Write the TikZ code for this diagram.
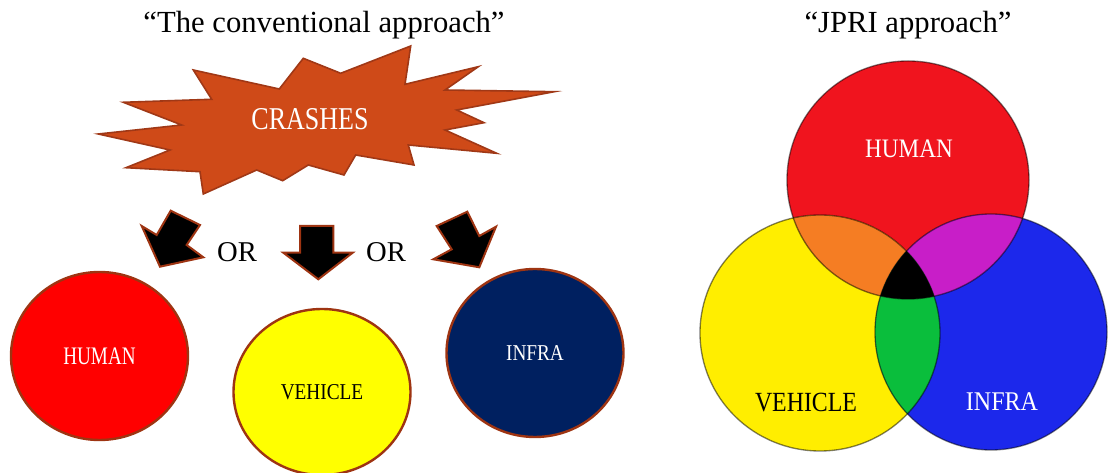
\documentclass[tikz,border=0pt]{standalone}
\usepackage{fontspec}
\setmainfont{Liberation Serif}
\usetikzlibrary{shapes.geometric}
\definecolor{burstfill}{RGB}{207,74,24}
\definecolor{burstline}{RGB}{160,56,22}
\definecolor{rimbrown}{RGB}{158,52,18}
\definecolor{ellred}{RGB}{255,0,0}
\definecolor{ellyellow}{RGB}{255,255,0}
\definecolor{ellnavy}{RGB}{0,32,96}
\definecolor{vred}{RGB}{240,20,30}
\definecolor{vyellow}{RGB}{255,238,0}
\definecolor{vblue}{RGB}{28,40,235}
\definecolor{vorange}{RGB}{245,125,35}
\definecolor{vmagenta}{RGB}{200,30,200}
\definecolor{vgreen}{RGB}{10,190,60}
\newcommand{\cond}[2]{\scalebox{#1}[1]{#2}}
\tikzset{
  titletext/.style={anchor=base, font=\fontsize{23}{27}\selectfont, text=black, inner sep=0pt},
  ortext/.style={anchor=base, font=\fontsize{21.5}{25}\selectfont, text=black, inner sep=0pt},
  bigell/.style={ellipse, draw=rimbrown, line width=1.8pt, inner sep=0pt,
                 minimum width=132.75pt, minimum height=126pt},
  blockarrow/.style={fill=black, draw=rimbrown, line width=1.5pt, line join=miter},
  burst/.style={fill=burstfill, draw=burstline, line width=1.2pt, line join=miter},
  vennrim/.style={draw=black, draw opacity=0.5, line width=1pt},
  vlabel/.style={inner sep=0pt}
}
\begin{document}
\begin{tikzpicture}[x=0.75pt,y=-0.75pt]
\useasboundingbox (0,0) rectangle (1108,473);

% titles
\node[titletext] (t1) at (324,33) {“The conventional approach”};
\node[titletext] (t2) at (908,33) {“JPRI approach”};

% starburst
\path[burst] (98.3,134) -- (181.7,125) -- (123.3,102.3) -- (211.7,99.3) -- (193.3,70)
  -- (279.3,89) -- (303.3,58.3) -- (340.7,73.3) -- (410.7,46) -- (405,84.3)
  -- (478.3,66.7) -- (445,90) -- (554.3,91.7) -- (456.7,110) -- (484,122.7)
  -- (445,130) -- (496.7,153.3) -- (408.3,145) -- (414,165) -- (355.7,155)
  -- (344,175) -- (308.3,165) -- (282.7,180.7) -- (256.7,170) -- (203.3,194)
  -- (200,171.7) -- (126,167.7) -- (170,150) -- cycle;
\node[vlabel, text=white, font=\fontsize{23.8}{28}\selectfont] (crash) at (310,119) {\cond{0.82}{CRASHES}};

% block arrows
\path[blockarrow] (170.7,210.7) -- (200,225) -- (186.7,245) -- (203.3,257.3)
  -- (160,266.7) -- (141.7,226) -- (156.7,235) -- cycle;
\path[blockarrow] (300,226) -- (333.3,226) -- (333.3,252.7) -- (352.7,252.7)
  -- (318.3,279.3) -- (283.3,252.7) -- (300,252.7) -- cycle;
\path[blockarrow] (436.7,226) -- (467.3,211.7) -- (479.3,236) -- (496,226.7)
  -- (479.3,267.3) -- (433.3,259.3) -- (451.7,249.3) -- cycle;

\node[ortext] (or1) at (237,262) {OR};
\node[ortext] (or2) at (386,262) {OR};

% left ellipses
\node[bigell, fill=ellred, text=white, font=\fontsize{18.9}{22}\selectfont] (hum) at (99.5,356) {\cond{0.76}{HUMAN}};
\node[bigell, fill=ellyellow, text=black, minimum height=124.5pt, font=\fontsize{17}{20}\selectfont] (veh) at (322,392) {\cond{0.85}{VEHICLE}};
\node[bigell, fill=ellnavy, text=white, font=\fontsize{17}{20}\selectfont] (inf) at (535,353) {\cond{0.85}{INFRA}};

% Venn diagram
\coordinate (cr) at (908,180);
\coordinate (cy) at (820,333);
\coordinate (cb) at (991,332);
\def\rcirc{(cr) ellipse [x radius=90.75pt, y radius=89.25pt]}
\def\ycirc{(cy) ellipse [x radius=90pt, y radius=88.5pt]}
\def\bcirc{(cb) ellipse [x radius=87pt, y radius=88.5pt]}
\fill[vred] \rcirc;
\fill[vyellow] \ycirc;
\fill[vblue] \bcirc;
\begin{scope}
  \clip \rcirc;
  \fill[vorange] \ycirc;
  \fill[vmagenta] \bcirc;
  \clip \ycirc;
  \fill[black] \bcirc;
\end{scope}
\begin{scope}
  \clip \ycirc;
  \fill[vgreen] \bcirc;
  \clip \rcirc;
  \fill[black] \bcirc;
\end{scope}
\draw[vennrim] \rcirc;
\draw[vennrim] \ycirc;
\draw[vennrim] \bcirc;

\node[vlabel, text=white, font=\fontsize{20}{24}\selectfont] (vh) at (909,149) {\cond{0.87}{HUMAN}};
\node[vlabel, text=black, font=\fontsize{20.8}{24}\selectfont] (vv) at (806,402.5) {\cond{0.86}{VEHICLE}};
\node[vlabel, text=white, font=\fontsize{20.25}{24}\selectfont] (vi) at (1002,402) {\cond{0.89}{INFRA}};
\end{tikzpicture}
\end{document}
